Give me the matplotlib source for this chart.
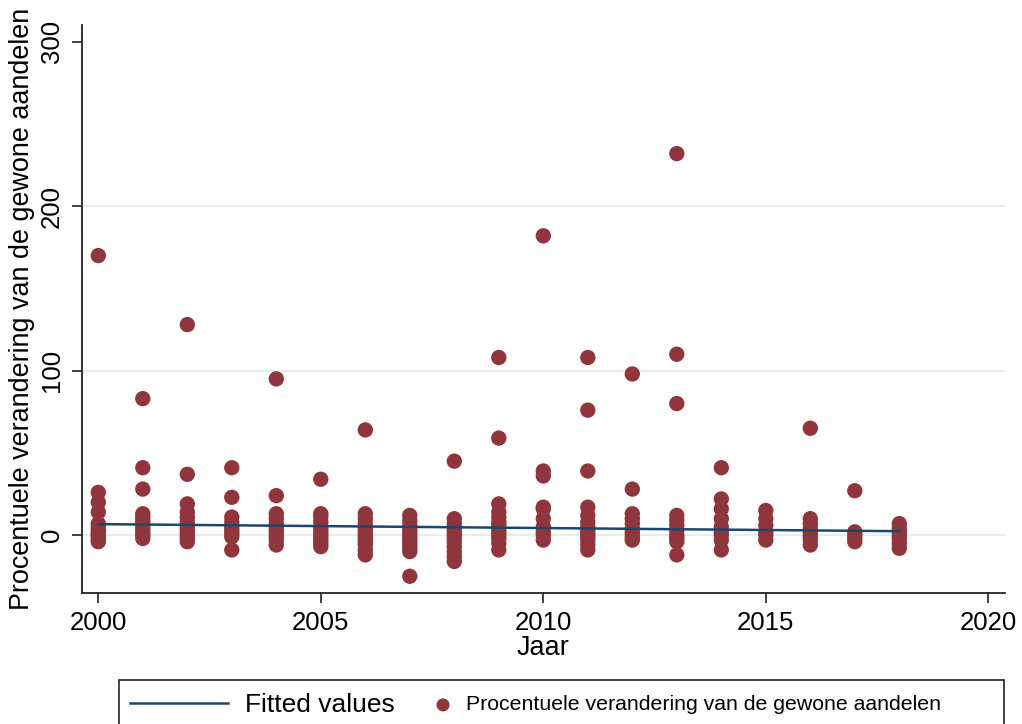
import numpy as np
import matplotlib
matplotlib.use("Agg")
import matplotlib.pyplot as plt
from matplotlib.patches import Rectangle

years = list(range(2000, 2019))
values = {
    2000: [170, 26, 20, 14, 7, 5, 3, 1, 0, -1, -3, -4],
    2001: [83, 41, 28, 13, 11, 9, 7, 5, 3, 1, 0, -2],
    2002: [128, 37, 19, 14, 11, 8, 6, 4, 2, 0, -2, -4],
    2003: [41, 23, 11, 8, 5, 3, 1, -1, -9],
    2004: [95, 24, 13, 10, 7, 5, 3, 1, -1, -3, -6],
    2005: [34, 13, 11, 8, 5, 3, 1, -1, -3, -5, -7],
    2006: [64, 13, 10, 7, 4, 2, 0, -2, -4, -6, -9, -12],
    2007: [12, 9, 6, 4, 2, 0, -2, -4, -6, -8, -10, -25],
    2008: [45, 10, 7, 4, 2, 0, -2, -4, -7, -10, -13, -16],
    2009: [108, 59, 19, 14, 11, 8, 6, 4, 2, 0, -2, -5, -9],
    2010: [182, 39, 36, 17, 16, 10, 5, 2, 0, -3],
    2011: [108, 76, 39, 17, 12, 8, 5, 3, 1, -1, -3, -6, -9],
    2012: [98, 28, 13, 10, 7, 4, 2, 0, -2, -3],
    2013: [232, 110, 80, 12, 9, 6, 3, 0, -2, -4, -12],
    2014: [41, 22, 16, 10, 5, 2, 0, -3, -9],
    2015: [15, 10, 6, 2, 0, -3],
    2016: [65, 10, 7, 4, 1, -1, -3, -6],
    2017: [27, 2, 0, -2, -4],
    2018: [7, 4, 2, 0, -2, -5, -8],
}
fit_years = [2000, 2018]
fit_values = [6.7, 2.4]
x_ticks = [2000, 2005, 2010, 2015, 2020]
y_ticks = [0, 100, 200, 300]
grid_levels = [0, 100, 200]

xs = np.array([y for y in years for _ in values[y]], dtype=float)
ys = np.array([v for y in years for v in values[y]], dtype=float)

plt.rcParams["font.family"] = ["Liberation Sans", "DejaVu Sans"]

W, H = 1022, 724
fig = plt.figure(figsize=(W / 100, H / 100), dpi=100)
ax = fig.add_axes([81.7 / W, (H - 592.7) / H, (1005 - 81.7) / W, (592.7 - 25) / H])

grid_c = "#e4edf0"
for t in grid_levels:
    ax.axhline(t, color=grid_c, lw=1.6, zorder=0)

line_c = "#1a476f"
dot_c = "#90353b"
ln, = ax.plot(fit_years, fit_values, color=line_c, lw=1.8, zorder=3,
              label="Fitted values")
sc = ax.scatter(xs, ys, s=122, color=dot_c, edgecolors="none", zorder=2,
                label="Procentuele verandering van de gewone aandelen")

ax.set_xlim(1999.627, 2020.375)
ax.set_ylim(-35, 310.2)
ax.set_xticks(x_ticks)
ax.set_yticks(y_ticks)
ax.spines["top"].set_visible(False)
ax.spines["right"].set_visible(False)
for s in ("left", "bottom"):
    ax.spines[s].set_linewidth(1.3)
    ax.spines[s].set_color("#222222")
ax.tick_params(axis="both", direction="out", length=7, width=1.2, color="#222222",
               labelsize=18.5, labelcolor="black")
ax.tick_params(axis="x", pad=6)
ax.tick_params(axis="y", pad=6)
for lab in ax.get_yticklabels():
    lab.set_rotation(90)
    lab.set_va("center")
ax.set_xlabel("Jaar", fontsize=19.5, labelpad=0)
ax.set_ylabel("Procentuele verandering van de gewone aandelen", fontsize=19.4, labelpad=3)

# legend frame (extends below the figure edge, as in the reference)
fig.patches.append(Rectangle((119 / W, -8 / H), (1004 - 119) / W, (H - 680 + 8) / H,
                             transform=fig.transFigure, facecolor="white",
                             edgecolor="#222222", lw=1.2, zorder=0))
leg_y = (H - 705) / H
leg1 = fig.legend(handles=[ln], loc="center left", bbox_to_anchor=(130 / W, leg_y),
                  frameon=False, fontsize=19, handlelength=3.7, handletextpad=0.64,
                  borderpad=0, borderaxespad=0)
leg2 = fig.legend(handles=[sc], loc="center left", bbox_to_anchor=(432.4 / W, leg_y),
                  frameon=False, fontsize=15.3, handlelength=1.0, handletextpad=0.58,
                  borderpad=0, borderaxespad=0, scatterpoints=1, markerscale=0.85)

fig.savefig("out.png", dpi=100)
